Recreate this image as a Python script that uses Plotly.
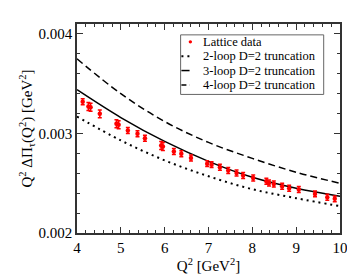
import plotly.graph_objects as go

# Lattice data
q2_lat = [4.13, 4.26, 4.31, 4.52, 4.90, 4.95, 5.16, 5.38, 5.55, 5.92, 5.96, 6.21, 6.38, 6.60,
          6.97, 7.07, 7.26, 7.45, 7.64, 7.79, 8.02, 8.32, 8.38, 8.49, 8.68, 8.84, 9.06, 9.43,
          9.71, 9.88]
val_lat = [0.003318, 0.00327, 0.003263, 0.003197, 0.003097, 0.003087, 0.00303, 0.002997,
           0.002953, 0.00288, 0.00287, 0.00282, 0.002797, 0.002753, 0.002697, 0.002687,
           0.00266, 0.002627, 0.002603, 0.002577, 0.002553, 0.00252, 0.002503, 0.002493,
           0.00247, 0.00245, 0.002437, 0.002393, 0.00236, 0.002343]
err_lat = [0.00003, 0.00004, 0.00004, 0.00004, 0.00004, 0.00004, 0.00003, 0.00003, 0.00003,
           0.00004, 0.00004, 0.00003, 0.00003, 0.00003, 0.00003, 0.00003, 0.00003, 0.00003,
           0.00003, 0.00003, 0.00003, 0.00003, 0.00003, 0.00003, 0.00003, 0.00003, 0.00003,
           0.00003, 0.00003, 0.00003]

# Truncation curves
q2_curve = [4, 5, 6, 7, 8, 9, 10]
two_loop = [0.00317, 0.00293, 0.00273, 0.00257, 0.00244, 0.00235, 0.00227]
three_loop = [0.00344, 0.00316, 0.00292, 0.00272, 0.00256, 0.00245, 0.00237]
four_loop = [0.00375, 0.00340, 0.00312, 0.00291, 0.00275, 0.00261, 0.00250]

legend_labels = ["Lattice data", "2-loop D=2 truncation", "3-loop D=2 truncation",
                 "4-loop D=2 truncation"]

FONT = "'Liberation Serif', 'Times New Roman', Times, serif"

fig = go.Figure()
fig.add_trace(go.Scatter(x=q2_curve, y=two_loop, mode="lines", name=legend_labels[1],
                         line=dict(color="black", width=2, dash="2px,4px", shape="spline"),
                         showlegend=False))
fig.add_trace(go.Scatter(x=q2_curve, y=three_loop, mode="lines", name=legend_labels[2],
                         line=dict(color="black", width=1.5, shape="spline"),
                         showlegend=False))
fig.add_trace(go.Scatter(x=q2_curve, y=four_loop, mode="lines", name=legend_labels[3],
                         line=dict(color="black", width=1.5, dash="7px,4px", shape="spline"),
                         showlegend=False))
fig.add_trace(go.Scatter(x=q2_lat, y=val_lat, mode="markers", name=legend_labels[0],
                         marker=dict(color="red", size=4.5),
                         error_y=dict(type="data", array=err_lat, color="red",
                                      thickness=1.5, width=2),
                         showlegend=False))

# Manual legend (paper coordinates)
shapes = [dict(type="rect", xref="paper", yref="paper", x0=0.394, x1=0.938, y0=0.663, y1=0.948,
               line=dict(color="#666666", width=1), fillcolor="white", layer="above")]
rows_y = [0.9147, 0.846, 0.7773, 0.7085]
dashes = [None, "2px,4px", "solid", "5px,3px"]
for i, yy in enumerate(rows_y):
    if i == 0:
        continue
    shapes.append(dict(type="line", xref="paper", yref="paper", x0=0.397, x1=0.428, y0=yy, y1=yy,
                       line=dict(color="black", width=2 if i == 1 else 1.5, dash=dashes[i]),
                       layer="above"))
shapes.append(dict(type="circle", xref="paper", yref="paper", x0=0.4245, x1=0.4375,
                   y0=rows_y[0] - 0.008, y1=rows_y[0] + 0.008,
                   line=dict(color="red", width=0), fillcolor="red", layer="above"))

annotations = []
for lab, yy in zip(legend_labels, rows_y):
    annotations.append(dict(xref="paper", yref="paper", x=0.4715, y=yy, text=lab,
                            showarrow=False, xanchor="left", yanchor="middle",
                            font=dict(family=FONT, size=12.5, color="black")))

axis_common = dict(showline=True, linecolor="#333333", linewidth=1.5, mirror="ticks",
                   ticks="inside", ticklen=6, tickwidth=1, tickcolor="#333333",
                   showgrid=False, zeroline=False,
                   tickfont=dict(family=FONT, size=15, color="black"))

fig.update_layout(
    width=355, height=274,
    margin=dict(l=69, r=23, t=16, b=47),
    paper_bgcolor="white", plot_bgcolor="white",
    font=dict(family=FONT, color="black"),
    shapes=shapes, annotations=annotations,
    xaxis=dict(range=[4, 10], dtick=1, tick0=4,
               minor=dict(dtick=0.2, ticks="inside", ticklen=3, tickcolor="#333333"),
               title=dict(text="Q<sup>2</sup> [GeV<sup>2</sup>]",
                          font=dict(family=FONT, size=15, color="black"), standoff=4),
               **axis_common),
    yaxis=dict(range=[0.002, 0.0041], dtick=0.001, tick0=0.002, tickformat=".3f",
               minor=dict(dtick=0.0002, ticks="inside", ticklen=3, tickcolor="#333333"),
               title=dict(text="Q<sup>2</sup> ΔΠ<sub>τ</sub>(Q<sup>2</sup>) [GeV<sup>2</sup>]",
                          font=dict(family=FONT, size=15, color="black"), standoff=2),
               **axis_common),
)

fig.write_html("out.html")
